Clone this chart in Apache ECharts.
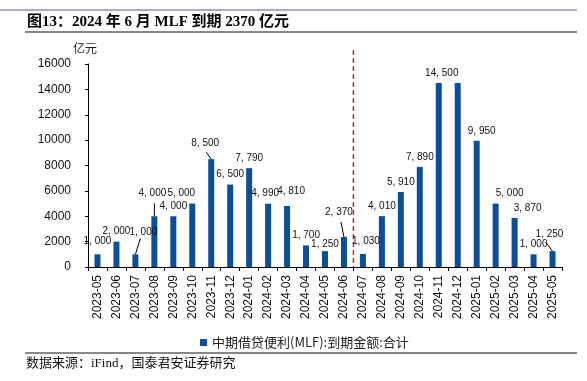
<!DOCTYPE html>
<html><head><meta charset="utf-8">
<script src="https://cdn.jsdelivr.net/npm/echarts@6/dist/echarts.min.js"></script>
<style>html,body{margin:0;padding:0;background:#fff}#c{width:587px;height:381px}</style>
</head><body><div id="c"></div>
<script>
// ---- data ----
const categories = ['2023-05','2023-06','2023-07','2023-08','2023-09','2023-10','2023-11','2023-12',
  '2024-01','2024-02','2024-03','2024-04','2024-05','2024-06','2024-07','2024-08','2024-09','2024-10',
  '2024-11','2024-12','2025-01','2025-02','2025-03','2025-04','2025-05'];
const values = [1000,2000,1000,4000,4000,5000,8500,6500,7790,4990,4810,1700,1250,2370,1030,4010,5910,7890,
  14500,14500,9950,5000,3870,1000,1250];
const yMin = 0, yMax = 16000, yStep = 2000;
const seriesName = '中期借贷便利(MLF):到期金额:合计';
const titleText = '图13：2024 年 6 月 MLF 到期 2370 亿元';
const sourceText = '数据来源：iFind，国泰君安证券研究';
const unitText = '亿元';
const splitAfter = '2024-06';

// ---- label styling (offsets / leader lines), not data ----
const labelOffsets = {0:[0,-3],2:[8,-12],3:[-2,-13],5:[-11,0],6:[-6,-6],9:[-3,0],10:[4,-5],12:[0,3],
  13:[-5,-15],14:[3,-3],18:[3,0],20:[5,0],21:[14,0],22:[13,0],24:[-3,-7]};
// leader line pixel deltas from bar top: [dx, dy]
const leaderDelta = {2:[5,-16],3:[0,-13],6:[-5,-7],13:[-3,-15],24:[-7,-9]};
const hiddenLabelIdx = [19];

const chart = echarts.init(document.getElementById('c'));
const data = values.map((v,i)=>{
  const item = {value:v};
  if (hiddenLabelIdx.includes(i)) item.label = {show:false};
  return item;
});
const fmt = v => String(v).replace(/\B(?=(\d{3})+(?!\d))/g, ', ');
const baseGraphics = [
  {id:'topline',type:'line',shape:{x1:0,y1:10,x2:577,y2:10},style:{stroke:'#7f96b8',lineWidth:1.5}},
  {id:'title',type:'text',left:27,top:15,style:{text:titleText,fontSize:15,fontWeight:'bold',fill:'#000',
    fontFamily:'Liberation Serif, Noto Sans CJK SC'}},
  {id:'titleline',type:'line',shape:{x1:25,y1:32,x2:577,y2:32},style:{stroke:'#888',lineWidth:2}},
  {id:'unit',type:'text',left:73,top:42,style:{text:unitText,fontSize:12,fill:'#222',fontFamily:'Noto Sans CJK SC'}},
  {id:'srcline',type:'line',shape:{x1:25,y1:353,x2:577,y2:353},style:{stroke:'#888',lineWidth:2}},
  {id:'src',type:'text',left:26,top:357,style:{text:sourceText,fontSize:13,fill:'#111',
    fontFamily:'Liberation Serif, Noto Sans CJK SC'}}
];
chart.setOption({
  animation:false,
  grid:{left:88,right:25,top:64,bottom:114},
  legend:{data:[seriesName],left:195,top:331,icon:'rect',itemWidth:7,itemHeight:7,itemGap:6,
    textStyle:{fontSize:13,color:'#222',fontFamily:'Noto Sans CJK SC'}},
  xAxis:{type:'category',data:categories,
    axisLine:{lineStyle:{color:'#000',width:1}},
    axisTick:{show:true,length:4,lineStyle:{color:'#000'}},
    axisLabel:{rotate:90,margin:8,fontSize:12,color:'#111',fontFamily:'Liberation Sans'}},
  yAxis:{type:'value',min:yMin,max:yMax,interval:yStep,
    splitLine:{show:false},
    axisLine:{show:true,lineStyle:{color:'#000'}},
    axisTick:{show:true,length:3,lineStyle:{color:'#000'}},
    axisLabel:{margin:17,fontSize:12,color:'#111',fontFamily:'Liberation Sans',formatter:v=>String(v)}},
  series:[{name:seriesName,type:'bar',data:data,barWidth:6,
    itemStyle:{color:'#0b4f9c'},
    label:{show:true,position:'top',distance:5,fontSize:10,color:'#111',fontFamily:'Liberation Sans',
      formatter:p=>fmt(p.value)},
    labelLayout:function(p){const o=labelOffsets[p.dataIndex];return o?{dx:o[0],dy:o[1]}:{};}
  }],
  graphic:baseGraphics
});
const extra = [];
// red dashed separator between splitAfter and next category, placed via axis scales
const i0 = categories.indexOf(splitAfter);
const xa = chart.convertToPixel({xAxisIndex:0}, categories[i0]);
const xb = chart.convertToPixel({xAxisIndex:0}, categories[i0+1]);
const yTop = chart.convertToPixel({yAxisIndex:0}, yMax) - 14;
const yBot = chart.convertToPixel({yAxisIndex:0}, yMin);
const xm = (xa+xb)/2;
extra.push({id:'split',type:'line',shape:{x1:xm,y1:yTop,x2:xm,y2:yBot},
  style:{stroke:'#d9262a',lineWidth:1.5,lineDash:[5,3]}});
// leader lines from bar tops
Object.keys(leaderDelta).forEach(k=>{
  const i = +k;
  const p = chart.convertToPixel({seriesIndex:0},[categories[i], values[i]]);
  const d = leaderDelta[k];
  extra.push({id:'lead'+i,type:'line',shape:{x1:p[0],y1:p[1],x2:p[0]+d[0],y2:p[1]+d[1]},
    style:{stroke:'#000',lineWidth:1}});
});
chart.setOption({graphic:baseGraphics.concat(extra)},{replaceMerge:['graphic']});
</script></body></html>
